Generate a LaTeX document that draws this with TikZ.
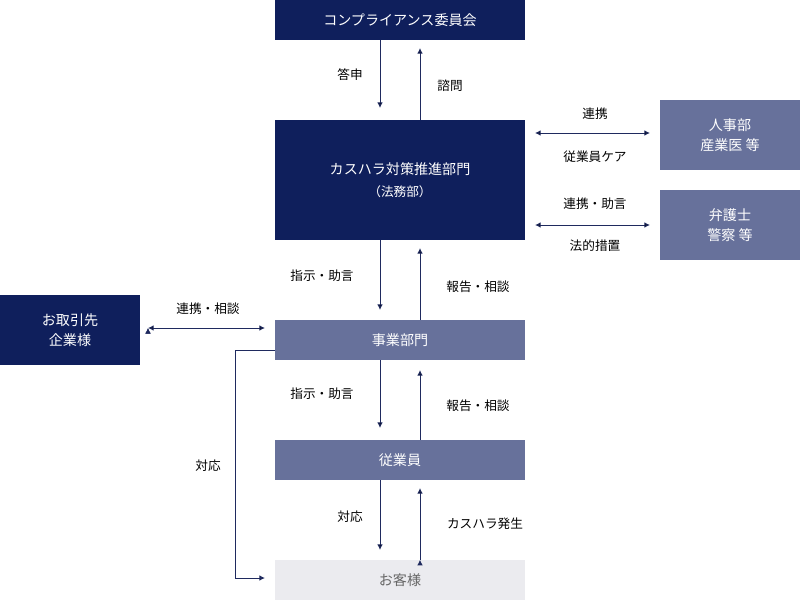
\documentclass[tikz,border=0pt]{standalone}
\usepackage{fontspec}
\setmainfont{Noto Sans CJK JP}
\usetikzlibrary{arrows.meta,positioning}
\definecolor{navy}{HTML}{0F1F5C}
\definecolor{slate}{HTML}{67719B}
\definecolor{pale}{HTML}{EBEBEF}
\definecolor{line}{HTML}{1F2A5E}
\tikzset{
    dbox/.style={
    rectangle,fill=navy,text=white,font=\fontsize{10pt}{14pt}\selectfont,align=center,inner sep=0pt
    },
    sbox/.style={
    rectangle,fill=slate,text=white,font=\fontsize{10pt}{14pt}\selectfont,align=center,inner sep=0pt
    },
    gbox/.style={
    rectangle,fill=pale,text=gray!80!black,font=\fontsize{10pt}{14pt}\selectfont,inner sep=0pt
    },
    lbl/.style={
    font=\fontsize{9pt}{11pt}\selectfont,text=black,inner sep=1pt
    },
    flow/.style={
    draw=line,line width=0.7pt,-{Latex[length=4pt,width=4pt]}
    },
    bflow/.style={
    draw=line,line width=0.7pt,{Latex[length=4pt,width=4pt]}-{Latex[length=4pt,width=4pt]}
    },
}
\begin{document}
\begin{tikzpicture}[x=0.025cm,y=-0.025cm]
   \useasboundingbox (0,0) rectangle (800,606);

   %boxes
   \node[dbox,minimum width=6.25cm,minimum height=1cm] (comp) at (400,20) {コンプライアンス委員会};
   \node[dbox,minimum width=6.25cm,minimum height=3cm] (cent) at (400,180) {カスハラ対策推進部門\\[2pt]{\fontsize{9pt}{11pt}\selectfont （法務部）}};
   \node[sbox,minimum width=3.5cm,minimum height=1.75cm] (hr) at (730,135) {人事部\\産業医 等};
   \node[sbox,minimum width=3.5cm,minimum height=1.75cm] (law) at (730,225) {弁護士\\警察 等};
   \node[dbox,minimum width=3.5cm,minimum height=1.75cm] (part) at (70,330) {お取引先\\企業様};
   \node[sbox,minimum width=6.25cm,minimum height=1cm] (dept) at (400,340) {事業部門};
   \node[sbox,minimum width=6.25cm,minimum height=1cm] (emp) at (400,460) {従業員};
   \node[gbox,minimum width=6.25cm,minimum height=1cm] (cust) at (400,580) {お客様};

   %free ends
   \coordinate (a1) at (380,108);
   \coordinate (a2) at (420,48);
   \coordinate (b1) at (380,310);
   \coordinate (b2) at (420,248);
   \coordinate (c1) at (380,428);
   \coordinate (c2) at (420,370);
   \coordinate (d1) at (380,550);
   \coordinate (d2) at (420,488);
   \coordinate (h1) at (535,133);
   \coordinate (h2) at (650,133);
   \coordinate (l1) at (535,225);
   \coordinate (l2) at (650,225);
   \coordinate (p1) at (148,328);
   \coordinate (p2) at (265,328);
   \coordinate (t0) at (235,350);
   \coordinate (t1) at (235,578);
   \coordinate (t2) at (265,578);

   \path[flow]
    (comp.south -| a1) edge (a1)
    (cent.north -| a2) edge (a2)
    (cent.south -| b1) edge (b1)
    (dept.north -| b2) edge (b2)
    (dept.south -| c1) edge (c1)
    (emp.north -| c2) edge (c2)
    (emp.south -| d1) edge (d1)
    (cust.north -| d2) edge (d2);
   \path[bflow]
    (h1) edge (h2)
    (l1) edge (l2)
    (p1) edge (p2);
   \draw[flow] (dept.west |- t0) -- (t0) -- (t1) -- (t2);

   %labels
   \node[lbl] (q1) at (350,75) {答申};
   \node[lbl] (q2) at (450,86) {諮問};
   \node[lbl] (q3) at (595,114) {連携};
   \node[lbl] (q4) at (595,157) {従業員ケア};
   \node[lbl] (q5) at (595,204) {連携・助言};
   \node[lbl] (q6) at (595,246) {法的措置};
   \node[lbl] (q7) at (322,276) {指示・助言};
   \node[lbl] (q8) at (478,287) {報告・相談};
   \node[lbl] (q9) at (208,309) {連携・相談};
   \node[lbl] (q10) at (322,394) {指示・助言};
   \node[lbl] (q11) at (478,406) {報告・相談};
   \node[lbl] (q12) at (208,466) {対応};
   \node[lbl] (q13) at (350,517) {対応};
   \node[lbl] (q14) at (485,524) {カスハラ発生};
\end{tikzpicture}
\end{document}
